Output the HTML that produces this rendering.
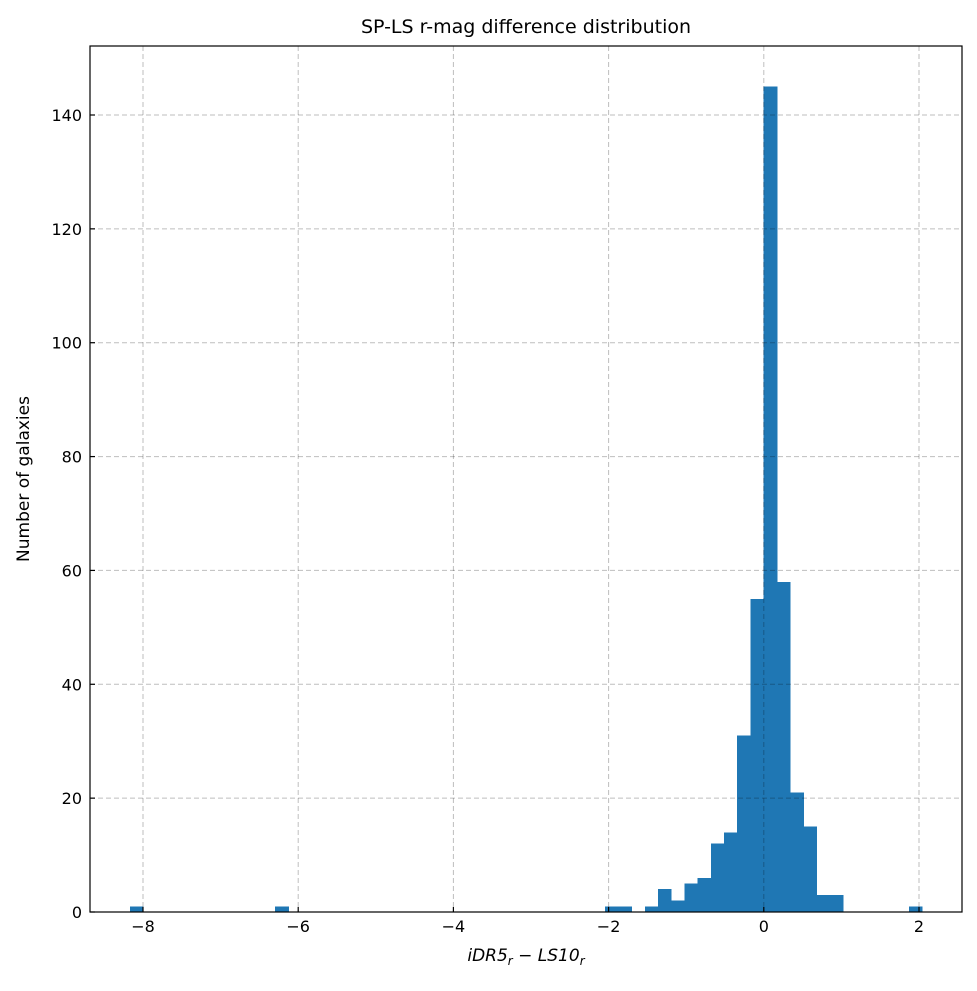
<!DOCTYPE html>
<html><head><meta charset="utf-8"><style>
body{margin:0;background:#fff;font-family:"Liberation Sans","DejaVu Sans",sans-serif}
svg text{font-family:"DejaVu Sans","Liberation Sans",sans-serif;fill:#000}
</style></head><body>
<svg id="c" width="977" height="986" xmlns="http://www.w3.org/2000/svg"></svg>
<script>
const binStart = -8.17;
const binWidth = 0.17017;
const counts = [1,0,0,0,0,0,0,0,0,0,0,1,0,0,0,0,0,0,0,0,0,0,0,0,0,0,0,0,0,0,0,0,0,0,0,0,1,1,0,1,4,2,5,6,12,14,31,55,145,58,21,15,3,3,0,0,0,0,0,1];
const xTicks = [-8,-6,-4,-2,0,2];
const yTicks = [0,20,40,60,80,100,120,140];
const L=90,R=962,T=46,B=912;
const x0=763.8, xs=77.6;
const ys=(912-115)/140;
const X=v=>x0+v*xs, Y=v=>B-v*ys;
const svg=document.getElementById('c');
const NS='http://www.w3.org/2000/svg';
function el(t,a,p){const e=document.createElementNS(NS,t);for(const k in a)e.setAttribute(k,a[k]);(p||svg).appendChild(e);return e;}
const grid=el('g',{});


const bars=el('g',{'shape-rendering':'crispEdges'});


counts.forEach((c,i)=>{if(!c)return;const a=binStart+i*binWidth;
 const r=el('rect',{x:X(a),y:Y(c),width:X(a+binWidth)-X(a)+0.5,height:B-Y(c),fill:'#1f77b4'},bars);
 
 });
xTicks.forEach(v=>{const x=X(v);
 el('line',{x1:x,x2:x,y1:T,y2:B,stroke:'#000','stroke-dasharray':'5,3','stroke-width':1,opacity:0.25},grid);
 el('line',{x1:x,x2:x,y1:B,y2:B-5,stroke:'#000','stroke-width':1.2});
 const t=el('text',{x:x,y:B+20,'text-anchor':'middle','font-size':16});t.textContent=(v<0?'\u2212'+(-v):v);
 
 });
yTicks.forEach(v=>{const y=Y(v);
 el('line',{x1:L,x2:R,y1:y,y2:y,stroke:'#000','stroke-dasharray':'5,3','stroke-width':1,opacity:0.25},grid);
 el('line',{x1:L,x2:L+5,y1:y,y2:y,stroke:'#000','stroke-width':1.2});
 const t=el('text',{x:L-8,y:y+6,'text-anchor':'end','font-size':16});t.textContent=v;
 
 });
svg.appendChild(grid);
const fr=el('rect',{x:L,y:T,width:R-L,height:B-T,fill:'none',stroke:'#000','stroke-width':1.2});


const ti=el('text',{x:(L+R)/2,y:33,'text-anchor':'middle','font-size':19});ti.textContent='SP-LS r-mag difference distribution';


const xl=el('text',{x:(L+R)/2,y:961,'text-anchor':'middle','font-size':17,'font-style':'italic'});
xl.innerHTML='iDR5<tspan font-size="12" dy="4">r</tspan><tspan dy="-4" font-style="normal"> \u2212 </tspan>LS10<tspan font-size="12" dy="4">r</tspan>';


const yl=el('text',{x:0,y:0,'text-anchor':'middle','font-size':17,transform:'translate(29,479) rotate(-90)'});yl.textContent='Number of galaxies';


</script>
</body></html>
